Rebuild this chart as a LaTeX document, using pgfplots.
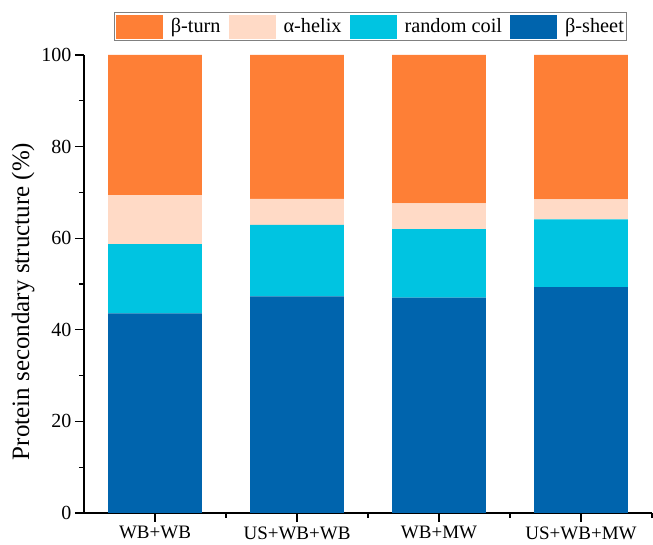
\documentclass[border=0pt]{standalone}
\usepackage{pgfplots}
\pgfplotsset{compat=1.18}
\usepackage{fontspec}
\setmainfont{Liberation Serif}
\definecolor{cturn}{HTML}{FE7F36}
\definecolor{chelix}{HTML}{FFDAC6}
\definecolor{ccoil}{HTML}{00C4E1}
\definecolor{csheet}{HTML}{0064AD}
\begin{document}
\begin{tikzpicture}[x=1pt,y=1pt]
\path[use as bounding box] (0,0) rectangle (653,545);
\begin{axis}[
  at={(84pt,32pt)}, anchor=south west,
  scale only axis, width=568pt, height=458pt,
  ybar stacked, bar width=0.66,
  xmin=-0.5, xmax=3.5, ymin=0, ymax=100,
  axis x line*=bottom, axis y line*=left,
  axis line style={line width=1.2pt},
  every tick/.style={line width=1.2pt, black},
  tick align=outside,
  major tick length=9pt, minor tick length=5pt,
  xtick={0,1,2,3},
  xticklabels={WB+WB, US+WB+WB, WB+MW, US+WB+MW},
  minor xtick={0.5,1.5,2.5,3.5},
  ytick={0,20,40,60,80,100},
  minor ytick={10,30,50,70,90},
  /pgf/number format/assume math mode=true,
  tick label style={font=\fontsize{20}{24}\selectfont},
  x tick label style={font=\fontsize{19}{23}\selectfont, yshift=-1pt},
  ylabel={Protein secondary structure (\%)},
  ylabel style={font=\fontsize{25}{30}\selectfont, at={(axis description cs:-0.107,0.462)}, anchor=center},
  legend style={at={(axis description cs:0.505,1.094)}, anchor=north,
    legend columns=4, draw=gray, line width=0.8pt,
    font=\fontsize{20.3}{24}\selectfont, inner xsep=1pt, inner ysep=2.2pt,
    /tikz/every odd column/.style={column sep=6pt},
    /tikz/every even column/.style={column sep=6pt}},
  legend cell align=left,
  reverse legend,
  legend image code/.code={\fill[#1] (0pt,-12pt) rectangle (47pt,12pt);},
]
\addplot[fill=csheet, draw=none] coordinates {(0,43.6) (1,47.3) (2,47.0) (3,49.3)};
\addplot[fill=ccoil, draw=none] coordinates {(0,15.1) (1,15.6) (2,15.0) (3,14.8)};
\addplot[fill=chelix, draw=none] coordinates {(0,10.7) (1,5.7) (2,5.6) (3,4.4)};
\addplot[fill=cturn, draw=none] coordinates {(0,30.6) (1,31.4) (2,32.4) (3,31.5)};
\legend{β-sheet, random coil, α-helix, β-turn}
\end{axis}
\end{tikzpicture}
\end{document}
